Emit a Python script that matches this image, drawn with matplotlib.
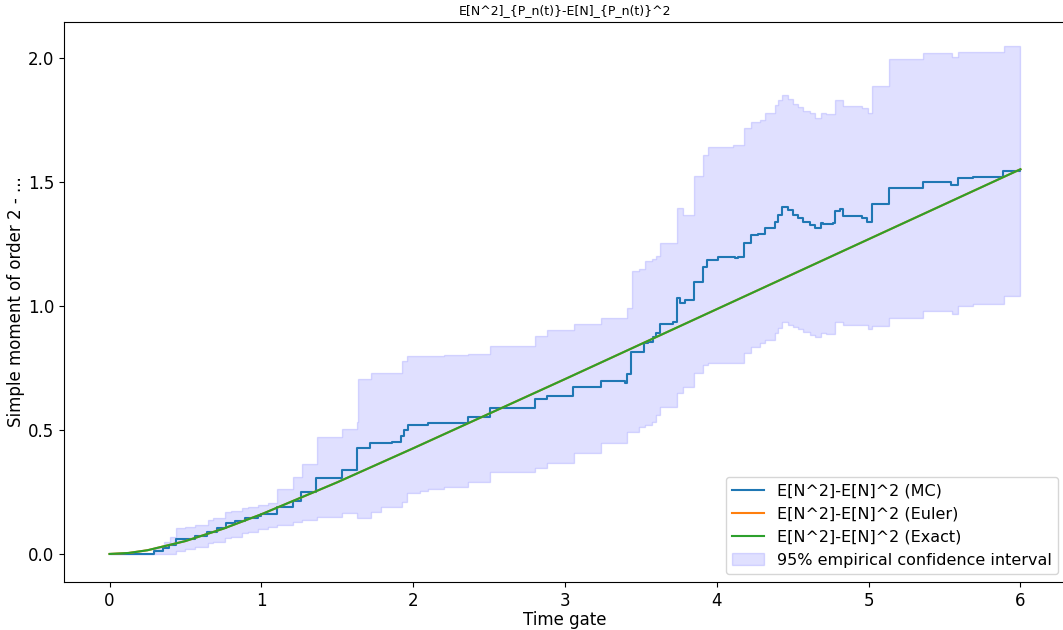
import numpy as np
import matplotlib
matplotlib.use('Agg')
import matplotlib.pyplot as plt

# Monte Carlo estimate (step function, value holds until next time)
mc_t = [0.00, 0.29, 0.35, 0.39, 0.44, 0.485, 0.56, 0.64, 0.705, 0.77, 0.826, 0.89,
        0.98, 1.00, 1.10, 1.21, 1.26, 1.357, 1.528, 1.627, 1.715, 1.858, 1.92, 1.94,
        1.963, 2.10, 2.25, 2.363, 2.505, 2.80, 2.88, 3.055, 3.24, 3.395, 3.41, 3.435,
        3.52, 3.55, 3.58, 3.60, 3.625, 3.713, 3.74, 3.76, 3.79, 3.85, 3.91, 3.937,
        4.01, 4.12, 4.14, 4.18, 4.225, 4.27, 4.317, 4.383, 4.405, 4.427, 4.47, 4.504,
        4.537, 4.57, 4.613, 4.65, 4.686, 4.70, 4.767, 4.778, 4.81, 4.833, 4.954, 4.987,
        5.024, 5.134, 5.36, 5.54, 5.59, 5.69, 5.887, 6.00]
mc_v = [0.000, 0.010, 0.024, 0.036, 0.059, 0.062, 0.072, 0.090, 0.103, 0.124, 0.134, 0.144,
        0.153, 0.160, 0.190, 0.215, 0.251, 0.308, 0.339, 0.426, 0.449, 0.452, 0.476, 0.500,
        0.520, 0.526, 0.530, 0.551, 0.587, 0.624, 0.637, 0.672, 0.699, 0.690, 0.726, 0.816,
        0.849, 0.855, 0.876, 0.890, 0.927, 0.935, 1.031, 1.011, 1.024, 1.098, 1.156, 1.185,
        1.199, 1.195, 1.199, 1.253, 1.286, 1.290, 1.313, 1.340, 1.367, 1.397, 1.388, 1.367,
        1.354, 1.340, 1.327, 1.316, 1.336, 1.330, 1.336, 1.384, 1.390, 1.363, 1.354, 1.340,
        1.410, 1.477, 1.501, 1.488, 1.515, 1.521, 1.544, 1.550]

# exact / Euler curves (sampled)
ex_t = [0.0, 0.125, 0.25, 0.5, 0.75, 1.0, 1.5, 2.0, 3.0, 4.0, 5.0, 6.0]
ex_v = [0.0, 0.004, 0.015, 0.052, 0.102, 0.160, 0.289, 0.426, 0.705, 0.987, 1.269, 1.551]
eu_v = [0.0, 0.004, 0.015, 0.052, 0.102, 0.160, 0.289, 0.426, 0.705, 0.987, 1.269, 1.551]

# 95% empirical confidence band
ci_t = [0.00, 0.30, 0.36, 0.40, 0.44, 0.50, 0.56, 0.65, 0.68, 0.76, 0.80, 0.87, 0.91,
        0.98, 1.045, 1.10, 1.21, 1.265, 1.364, 1.528, 1.627, 1.638, 1.72, 1.79, 1.924,
        1.96, 2.045, 2.10, 2.20, 2.363, 2.505, 2.80, 2.88, 3.06, 3.24, 3.41, 3.44, 3.49,
        3.53, 3.57, 3.60, 3.625, 3.735, 3.74, 3.78, 3.85, 3.91, 3.94, 4.11, 4.18, 4.225,
        4.285, 4.317, 4.383, 4.405, 4.427, 4.47, 4.504, 4.537, 4.57, 4.613, 4.65, 4.686,
        4.72, 4.778, 4.833, 4.954, 4.998, 5.024, 5.134, 5.36, 5.547, 5.59, 5.69, 5.894, 6.00]
ci_lo = [0.000, 0.000, 0.000, 0.000, 0.013, 0.020, 0.030, 0.045, 0.050, 0.065, 0.070, 0.085, 0.090,
         0.100, 0.110, 0.115, 0.128, 0.137, 0.150, 0.166, 0.144, 0.144, 0.170, 0.190, 0.211,
         0.245, 0.254, 0.261, 0.270, 0.292, 0.332, 0.346, 0.366, 0.406, 0.446, 0.493, 0.493, 0.513,
         0.520, 0.533, 0.560, 0.594, 0.621, 0.648, 0.675, 0.729, 0.762, 0.769, 0.769, 0.809, 0.836,
         0.850, 0.863, 0.890, 0.910, 0.937, 0.925, 0.917, 0.905, 0.896, 0.883, 0.874, 0.890,
         0.885, 0.937, 0.925, 0.923, 0.906, 0.920, 0.950, 0.980, 0.968, 1.001, 1.008, 1.042, 1.048]
ci_hi = [0.000, 0.030, 0.050, 0.070, 0.105, 0.110, 0.115, 0.137, 0.145, 0.171, 0.175, 0.184, 0.190,
         0.198, 0.205, 0.262, 0.310, 0.362, 0.473, 0.505, 0.533, 0.704, 0.730, 0.730, 0.776,
         0.800, 0.800, 0.800, 0.802, 0.806, 0.838, 0.880, 0.903, 0.927, 0.950, 0.990, 1.142, 1.150,
         1.183, 1.190, 1.200, 1.253, 1.260, 1.394, 1.367, 1.524, 1.609, 1.642, 1.649, 1.716, 1.743,
         1.750, 1.777, 1.810, 1.831, 1.851, 1.835, 1.815, 1.804, 1.784, 1.777, 1.759, 1.777,
         1.775, 1.831, 1.806, 1.797, 1.777, 1.887, 1.996, 2.019, 2.003, 2.023, 2.023, 2.046, 2.046]

fig = plt.figure(figsize=(10.63, 6.3), dpi=100)
ax = fig.add_axes([0.0602, 0.0762, 0.9426, 0.889])

ax.plot(mc_t, mc_v, drawstyle='steps-post', label='E[N^2]-E[N]^2 (MC)')
ax.plot(ex_t, eu_v, label='E[N^2]-E[N]^2 (Euler)')
ax.plot(ex_t, ex_v, label='E[N^2]-E[N]^2 (Exact)')
ax.fill_between(ci_t, ci_lo, ci_hi, step='post', color='b', alpha=0.12,
                label='95% empirical confidence interval')

ax.set_xlim(-0.3, 6.3)
ax.set_ylim(-0.113, 2.145)
ax.set_xticks([0, 1, 2, 3, 4, 5, 6])
ax.set_yticks([0.0, 0.5, 1.0, 1.5, 2.0])
ax.tick_params(labelsize=12)
ax.set_xlabel('Time gate', fontsize=12, labelpad=1)
ax.set_ylabel('Simple moment of order 2 - ...', fontsize=12, labelpad=2)
ax.set_title('E[N^2]_{P_n(t)}-E[N]_{P_n(t)}^2', fontsize=9)
ax.legend(loc='lower right', fontsize=11.5)

fig.savefig('out.png', dpi=100)
